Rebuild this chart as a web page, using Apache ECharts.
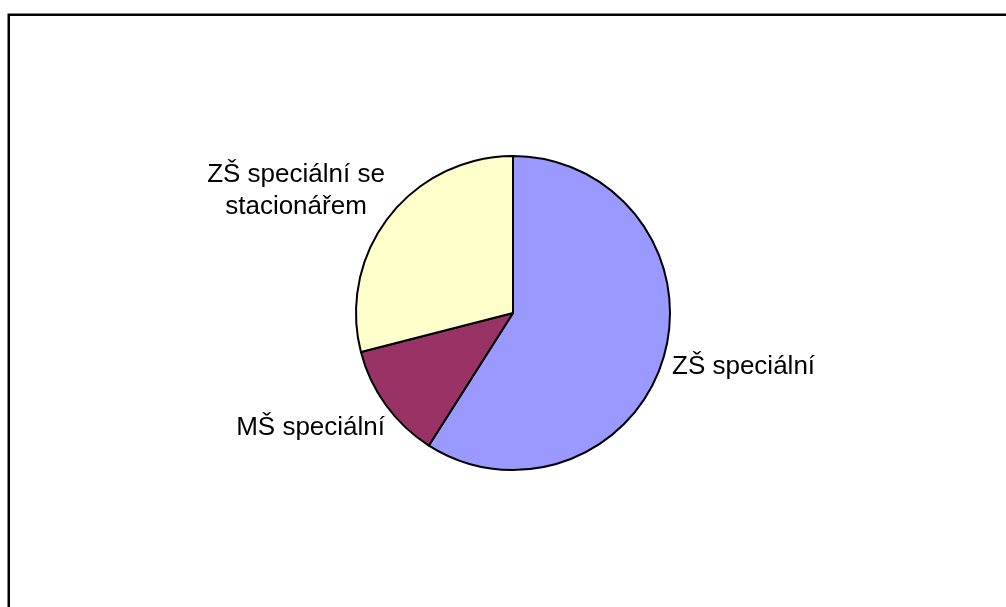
<!DOCTYPE html>
<html>
<head>
<meta charset="utf-8">
<script src="https://cdn.jsdelivr.net/npm/echarts@6/dist/echarts.min.js"></script>
<style>
  html, body { margin: 0; padding: 0; background: #fff; }
  #chart { width: 1006px; height: 607px; }
</style>
</head>
<body>
<div id="chart"></div>
<script>
// Types of special schools and their share
const categories = ['ZŠ speciální', 'MŠ speciální', 'ZŠ speciální se\nstacionářem'];
const values = [59, 12, 29];
const colors = ['#9999FF', '#993366', '#FFFFCC'];

// Label anchor per slice (x, y, horizontal alignment)
const labelPlacement = [
  { x: 672, y: 367, align: 'left' },
  { x: 385, y: 428, align: 'right' },
  { x: 296, y: 191, align: 'center' }
];

const chart = echarts.init(document.getElementById('chart'), null, { renderer: 'canvas' });

chart.setOption({
  backgroundColor: '#ffffff',
  animation: false,
  graphic: [{
    type: 'rect',
    shape: { x: 8.75, y: 14.75, width: 1200, height: 800 },
    style: { fill: 'none', stroke: '#000', lineWidth: 2.5 },
    silent: true
  }],
  series: [{
    type: 'pie',
    center: [513, 313],
    radius: 157,
    startAngle: 90,
    clockwise: true,
    avoidLabelOverlap: false,
    data: categories.map((name, i) => ({
      name,
      value: values[i],
      itemStyle: { color: colors[i] }
    })),
    itemStyle: { borderColor: '#000', borderWidth: 2 },
    label: {
      show: true,
      position: 'outside',
      formatter: '{b}',
      fontFamily: 'Liberation Sans, Arial, sans-serif',
      fontSize: 26,
      lineHeight: 32,
      color: '#000'
    },
    labelLine: { show: false },
    labelLayout: (p) => {
      const lp = labelPlacement[p.dataIndex];
      return { x: lp.x, y: lp.y, align: lp.align, verticalAlign: 'middle' };
    },
    emphasis: { disabled: true }
  }]
});
</script>
</body>
</html>
